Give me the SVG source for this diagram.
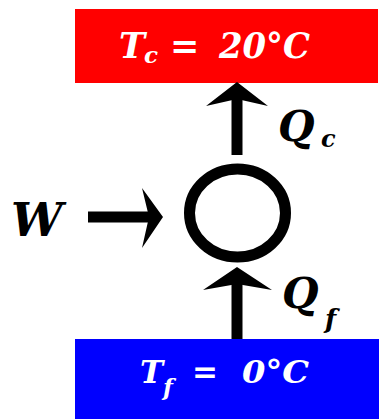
<svg xmlns="http://www.w3.org/2000/svg" width="379" height="419" viewBox="0 0 379 419">
<style>
.lbl{font-family:"DejaVu Serif","Liberation Serif",serif;font-weight:bold;font-style:italic}
.w{fill:#fff}
.k{fill:#000}
.ln{stroke:#000;stroke-width:11;fill:none}
.hd{fill:#000}
</style>
<g id="hot">
<rect x="75" y="9" width="303" height="74" fill="#ff0000"/>
<text class="lbl w" y="58" font-size="35"><tspan x="119">T</tspan><tspan x="144" y="63" font-size="23">c</tspan><tspan x="170" y="58">=</tspan><tspan x="219" textLength="91" lengthAdjust="spacingAndGlyphs">20°C</tspan></text>
</g>
<g id="cold">
<rect x="75" y="339" width="304" height="80" fill="#0000ff"/>
<text class="lbl w" y="383" font-size="31"><tspan x="140">T</tspan><tspan x="163" y="395" font-size="23">f</tspan><tspan x="192" y="383">=</tspan><tspan x="242" textLength="67" lengthAdjust="spacingAndGlyphs">0°C</tspan></text>
</g>
<g id="engine">
<ellipse cx="237.5" cy="213" rx="48" ry="44" fill="none" stroke="#000" stroke-width="11"/>
</g>
<g id="work">
<text class="lbl k" x="11" y="236" font-size="46">W</text>
</g>
<g id="connectors">
<line class="ln" x1="237" y1="155" x2="237" y2="98"/>
<polygon class="hd" points="237,82 268,106 237,99 206,106"/>
<line class="ln" x1="237" y1="339" x2="237" y2="283"/>
<polygon class="hd" points="237,267 272,290 237,284 203,290"/>
<line class="ln" x1="88" y1="217" x2="150" y2="217" stroke-width="10"/>
<polygon class="hd" points="163,217 142,188 149,217 142,248"/>
</g>
<g id="qc">
<text class="lbl k" y="141" font-size="42"><tspan x="278">Q</tspan><tspan x="321" y="147" font-size="24">c</tspan></text>
</g>
<g id="qf">
<text class="lbl k" y="308" font-size="42"><tspan x="282">Q</tspan><tspan x="325" y="328" font-size="26">f</tspan></text>
</g>
</svg>
